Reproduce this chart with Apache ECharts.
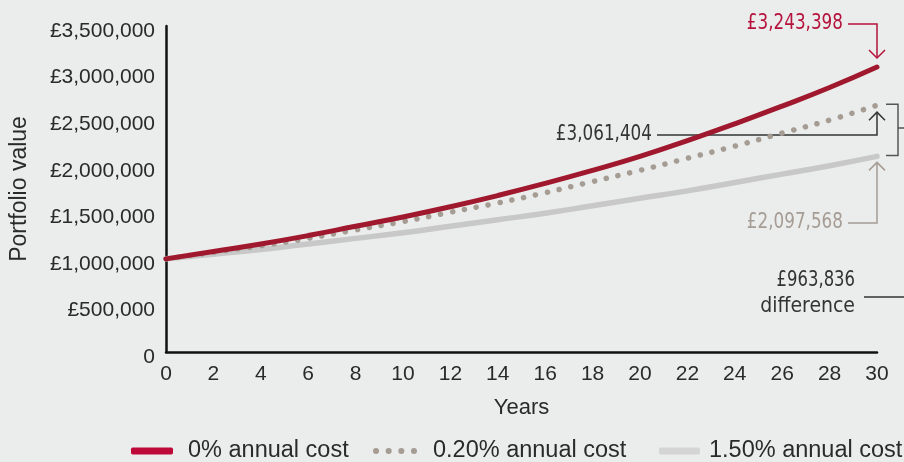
<!DOCTYPE html>
<html>
<head>
<meta charset="utf-8">
<script src="https://cdn.jsdelivr.net/npm/echarts@6/dist/echarts.min.js"></script>
<style>
html, body { margin: 0; padding: 0; background: #ebecec; }
#chart { width: 904px; height: 462px; }
</style>
</head>
<body>
<div id="chart"></div>
<script>
// values, every 2 years
var years = [0, 2, 4, 6, 8, 10, 12, 14, 16, 18, 20, 22, 24, 26, 28, 30];
var cost0 = [1000000, 1080000, 1160000, 1250000, 1350000, 1450000, 1560000, 1680000, 1810000, 1950000, 2100000, 2270000, 2450000, 2640000, 2840000, 3060000];
var cost020 = [1000000, 1070000, 1140000, 1220000, 1310000, 1400000, 1500000, 1600000, 1710000, 1830000, 1950000, 2080000, 2210000, 2350000, 2490000, 2650000];
var cost150 = [1000000, 1050000, 1100000, 1160000, 1220000, 1280000, 1350000, 1420000, 1490000, 1570000, 1650000, 1730000, 1820000, 1910000, 2000000, 2100000];
var seriesNames = ["0% annual cost", "0.20% annual cost", "1.50% annual cost"];

var font = "'Liberation Sans', Arial, sans-serif";
var narrow = "'Liberation Sans Narrow', 'DejaVu Sans Condensed', sans-serif";
var textColor = "#2a2a2a";
var dots = "path://M0,3a3,3 0 1,0 6,0a3,3 0 1,0 -6,0ZM12.5,3a3,3 0 1,0 6,0a3,3 0 1,0 -6,0ZM25,3a3,3 0 1,0 6,0a3,3 0 1,0 -6,0ZM37.5,3a3,3 0 1,0 6,0a3,3 0 1,0 -6,0Z";

function pairs(vals) {
    return years.map(function(y, i) { return [y, vals[i]]; });
}
function money(v) {
    if (v === 0) return "0";
    return "£" + v.toString().replace(/\B(?=(\d{3})+(?!\d))/g, ",");
}
function legendItem(name, icon, color, left, width, gap) {
    return {
        top: 439,
        left: left,
        padding: 0,
        itemWidth: width,
        itemHeight: 7,
        textStyle: { fontFamily: font, fontSize: 23.5, color: textColor, padding: [0, 0, 0, gap] },
        data: [{ name: name, icon: icon, itemStyle: { color: color } }]
    };
}

var myChart = echarts.init(document.getElementById("chart"));
var option = {
    backgroundColor: "#ebecec",
    animation: false,
    grid: { left: 165, right: 27, top: 26, bottom: 110 },
    legend: [
        legendItem(seriesNames[0], "roundRect", "#be0a39", 131, 42, 10),
        legendItem(seriesNames[1], dots, "#a59c94", 373, 44, 11),
        legendItem(seriesNames[2], "roundRect", "#d4d4d4", 659, 41, 4)
    ],
    xAxis: {
        type: "value",
        min: 0,
        max: 30,
        interval: 2,
        name: "Years",
        nameLocation: "middle",
        nameGap: 45,
        nameTextStyle: { fontFamily: font, fontSize: 22, color: textColor },
        axisLine: { lineStyle: { color: "#111", width: 2.5 } },
        axisTick: { show: false },
        splitLine: { show: false },
        axisLabel: { fontFamily: font, fontSize: 21, color: textColor, margin: 12 }
    },
    yAxis: {
        type: "value",
        min: 0,
        max: 3500000,
        interval: 500000,
        name: "Portfolio value",
        nameLocation: "middle",
        nameGap: 135,
        nameTextStyle: { fontFamily: font, fontSize: 23, color: textColor },
        axisLine: { show: true, lineStyle: { color: "#111", width: 2.5 } },
        axisTick: { show: false },
        splitLine: { show: false },
        axisLabel: { fontFamily: font, fontSize: 21, color: textColor, margin: 11, verticalAlign: "top", lineHeight: 10, formatter: money }
    },
    series: [
        {
            name: seriesNames[2],
            type: "line",
            smooth: true,
            symbol: "none",
            z: 2,
            data: pairs(cost150),
            itemStyle: { color: "#c8c8c8" },
            lineStyle: { color: "#c8c8c8", width: 5.5, cap: "round" }
        },
        {
            name: seriesNames[1],
            type: "line",
            smooth: true,
            symbol: "none",
            z: 3,
            data: pairs(cost020),
            itemStyle: { color: "#a59c94" },
            lineStyle: { color: "#a59c94", width: 5.5, type: [0.1, 12], cap: "round" }
        },
        {
            name: seriesNames[0],
            type: "line",
            smooth: true,
            symbol: "none",
            z: 4,
            data: pairs(cost0),
            itemStyle: { color: "#a0182d" },
            lineStyle: { color: "#a0182d", width: 5, cap: "round" }
        }
    ]
};
myChart.setOption(option);

// annotations hung off the line ends
var last = years.length - 1;
var pRed = myChart.convertToPixel({ gridIndex: 0 }, [years[last], cost0[last]]);
var pDot = myChart.convertToPixel({ gridIndex: 0 }, [years[last], cost020[last]]);
var pGray = myChart.convertToPixel({ gridIndex: 0 }, [years[last], cost150[last]]);
var ax = pRed[0];

function label(txt, color, right, y, squeeze) {
    return {
        type: "text",
        x: right,
        y: y,
        scaleX: squeeze,
        style: { text: txt, fill: color, font: "21px " + narrow, align: "right", verticalAlign: "middle" }
    };
}

function callout(color, labelText, textRight, textY, tipY, down) {
    var d = down ? -8 : 8;
    return [
        {
            type: "polyline",
            shape: { points: [[textRight + 5, textY], [ax, textY], [ax, tipY]] },
            style: { stroke: color, lineWidth: 1.5, fill: null }
        },
        {
            type: "polyline",
            shape: { points: [[ax - 8, tipY + d], [ax, tipY], [ax + 8, tipY + d]] },
            style: { stroke: color, lineWidth: 1.5, fill: null }
        },
        label(labelText, color, textRight, textY, 0.89)
    ];
}

var elements = []
    .concat(callout("#b5123c", "£3,243,398", 843, 24, pRed[1] - 9, true))
    .concat(callout("#333333", "£3,061,404", 652, 135, pDot[1] + 7, false))
    .concat(callout("#a59c94", "£2,097,568", 843, 223, pGray[1] + 6, false));

elements.push(
    {
        type: "polyline",
        shape: { points: [[ax + 9, pDot[1] - 1], [ax + 21, pDot[1] - 1], [ax + 21, pGray[1] - 1], [ax + 9, pGray[1] - 1]] },
        style: { stroke: "#555", lineWidth: 1.5, fill: null }
    },
    {
        type: "line",
        shape: { x1: ax + 21, y1: 128, x2: 904, y2: 128 },
        style: { stroke: "#555", lineWidth: 1.5 }
    },
    label("£963,836", "#333", 855, 281, 0.87),
    label("difference", "#333", 855, 307, 1),
    {
        type: "line",
        shape: { x1: 864, y1: 297, x2: 904, y2: 297 },
        style: { stroke: "#333", lineWidth: 1.5 }
    }
);
myChart.setOption({ graphic: { elements: elements } });
</script>
</body>
</html>
